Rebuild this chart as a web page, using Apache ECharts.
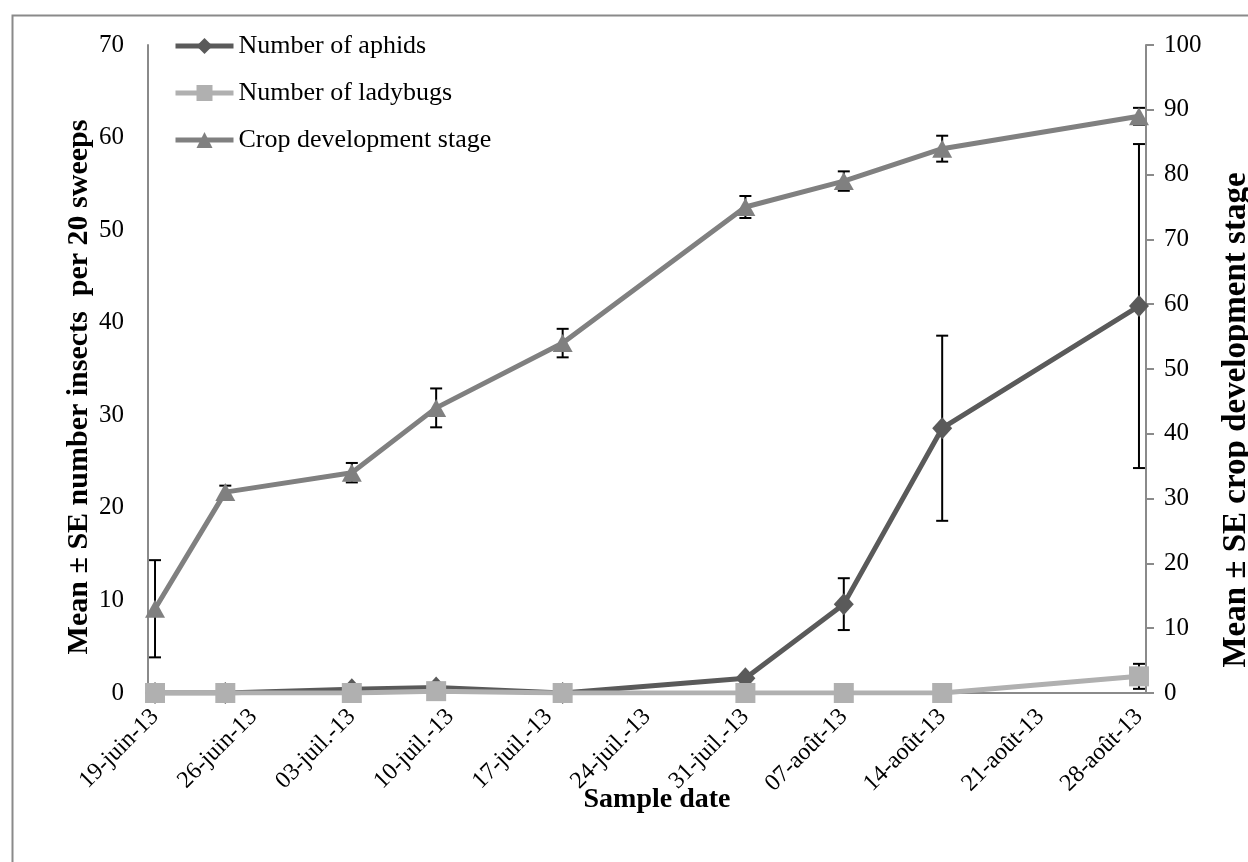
<!DOCTYPE html>
<html>
<head>
<meta charset="utf-8">
<script src="https://cdn.jsdelivr.net/npm/echarts@6/dist/echarts.min.js"></script>
<style>
html,body{margin:0;padding:0;background:#fff;}
#chart{width:1248px;height:862px;}
</style>
</head>
<body>
<div id="chart"></div>
<script>
// ---- data ----
const axisStart = '2013-06-19';
const axisEnd = '2013-08-28';
const sampleDates = ['2013-06-19','2013-06-24','2013-07-03','2013-07-09','2013-07-18','2013-07-31','2013-08-07','2013-08-14','2013-08-28'];
const tickLabels = ['19-juin-13','26-juin-13','03-juil.-13','10-juil.-13','17-juil.-13','24-juil.-13','31-juil.-13','07-août-13','14-août-13','21-août-13','28-août-13'];
const aphids     = [0, 0, 0.4, 0.6, 0, 1.6, 9.6, 28.6, 41.8];
const aphidsSE   = [0, 0, 0, 0, 0, 0, 2.8, 10.0, 17.5];
const ladybugs   = [0, 0, 0, 0.2, 0, 0, 0, 0, 1.8];
const ladybugsSE = [0, 0, 0, 0, 0, 0, 0, 0, 1.35];
const crop       = [13, 31, 34, 44, 54, 75, 79, 84, 89];
const cropSE     = [7.5, 1, 1.5, 3, 2.2, 1.7, 1.5, 2, 1.3];

const seriesNames = ['Number of aphids', 'Number of ladybugs', 'Crop development stage'];
const seriesColors = ['#5a5a5a', '#b0b0b0', '#808080'];
const leftTitle = 'Mean ± SE number insects  per 20 sweeps';
const rightTitle = 'Mean ± SE crop development stage';
const xTitle = 'Sample date';

// ---- daily category axis (each day one band, like a date axis) ----
const DAY = 86400000;
const t0 = Date.parse(axisStart), t1 = Date.parse(axisEnd);
const days = [];
for (let t = t0; t <= t1; t += DAY) days.push(new Date(t).toISOString().slice(0, 10));

const FONT = '"Liberation Serif", "Times New Roman", serif';

function pts(vals) { return sampleDates.map((d, i) => [d, vals[i]]); }
function errData(vals, ses) {
  const out = [];
  sampleDates.forEach((d, i) => { if (ses[i] > 0) out.push([d, vals[i] - ses[i], vals[i] + ses[i]]); });
  return out;
}
function errSeries(vals, ses, yIdx) {
  return {
    type: 'custom', yAxisIndex: yIdx, z: 1, silent: true,
    data: errData(vals, ses),
    encode: { x: 0, y: [1, 2] },
    renderItem: function (params, api) {
      const x = api.value(0);
      const lo = api.coord([x, api.value(1)]);
      const hi = api.coord([x, api.value(2)]);
      const w = 6;
      const st = { stroke: '#000', lineWidth: 2 };
      return {
        type: 'group',
        children: [
          { type: 'line', shape: { x1: lo[0], y1: lo[1], x2: hi[0], y2: hi[1] }, style: st },
          { type: 'line', shape: { x1: hi[0] - w, y1: hi[1], x2: hi[0] + w, y2: hi[1] }, style: st },
          { type: 'line', shape: { x1: lo[0] - w, y1: lo[1], x2: lo[0] + w, y2: lo[1] }, style: st }
        ]
      };
    }
  };
}

const chart = echarts.init(document.getElementById('chart'), null, { renderer: 'canvas' });
const axisGray = '#8a8a8a';
chart.setOption({
  animation: false,
  backgroundColor: '#fff',
  textStyle: { fontFamily: FONT },
  grid: { left: 148, right: 102, top: 45, bottom: 169, containLabel: false },
  legend: {
    orient: 'vertical', left: 168, top: 28,
    itemWidth: 58, itemHeight: 20, itemGap: 21,
    textStyle: { fontFamily: FONT, fontSize: 26, color: '#000' },
    data: seriesNames.map((n, i) => ({ name: n, lineStyle: { width: 5, color: seriesColors[i] }, itemStyle: { color: seriesColors[i] } }))
  },
  xAxis: {
    type: 'category', data: days, boundaryGap: true,
    axisLine: { show: true, lineStyle: { color: axisGray, width: 2 } },
    axisTick: { show: false },
    axisLabel: {
      interval: 6, rotate: 45, margin: 20,
      fontFamily: FONT, fontSize: 24, color: '#000',
      formatter: function (v, idx) { return tickLabels[Math.round(idx / 7)]; }
    },
    splitLine: { show: false }
  },
  yAxis: [
    {
      type: 'value', min: 0, max: 70, interval: 10, position: 'left',
      axisLine: { show: true, lineStyle: { color: axisGray, width: 2 } },
      axisTick: { show: false },
      axisLabel: { fontFamily: FONT, fontSize: 25, color: '#000', margin: 24 },
      splitLine: { show: false }
    },
    {
      type: 'value', min: 0, max: 100, interval: 10, position: 'right',
      axisLine: { show: true, lineStyle: { color: axisGray, width: 2 } },
      axisTick: { show: true, length: 8, inside: false, lineStyle: { color: axisGray, width: 2 } },
      axisLabel: { fontFamily: FONT, fontSize: 25, color: '#000', margin: 18 },
      splitLine: { show: false }
    }
  ],
  graphic: [
    { type: 'rect', left: 10, top: 13, shape: { width: 1260, height: 880 }, style: { fill: 'none', stroke: axisGray, lineWidth: 2 }, silent: true, z: -10 },
    { type: 'text', x: 79, y: 387, rotation: Math.PI / 2, style: { text: leftTitle, font: 'bold 30px ' + FONT, fill: '#000', textAlign: 'center', textVerticalAlign: 'middle' } },
    { type: 'text', x: 1236, y: 420, rotation: Math.PI / 2, style: { text: rightTitle, font: 'bold 33px ' + FONT, fill: '#000', textAlign: 'center', textVerticalAlign: 'middle' } },
    { type: 'text', x: 657, y: 800, style: { text: xTitle, font: 'bold 28px ' + FONT, fill: '#000', textAlign: 'center', textVerticalAlign: 'middle' } }
  ],
  series: [
    errSeries(aphids, aphidsSE, 0),
    errSeries(ladybugs, ladybugsSE, 0),
    errSeries(crop, cropSE, 1),
    {
      name: seriesNames[0], type: 'line', yAxisIndex: 0, z: 3,
      data: pts(aphids), symbol: 'diamond', symbolSize: [20, 22], showAllSymbol: true,
      lineStyle: { color: seriesColors[0], width: 5 }, itemStyle: { color: seriesColors[0] }
    },
    {
      name: seriesNames[1], type: 'line', yAxisIndex: 0, z: 4,
      data: pts(ladybugs), symbol: 'rect', symbolSize: 20, showAllSymbol: true,
      lineStyle: { color: seriesColors[1], width: 5 }, itemStyle: { color: seriesColors[1] }
    },
    {
      name: seriesNames[2], type: 'line', yAxisIndex: 1, z: 5,
      data: pts(crop), symbol: 'triangle', symbolSize: [20, 18], showAllSymbol: true,
      lineStyle: { color: seriesColors[2], width: 5 }, itemStyle: { color: seriesColors[2] }
    }
  ]
});
</script>
</body>
</html>
